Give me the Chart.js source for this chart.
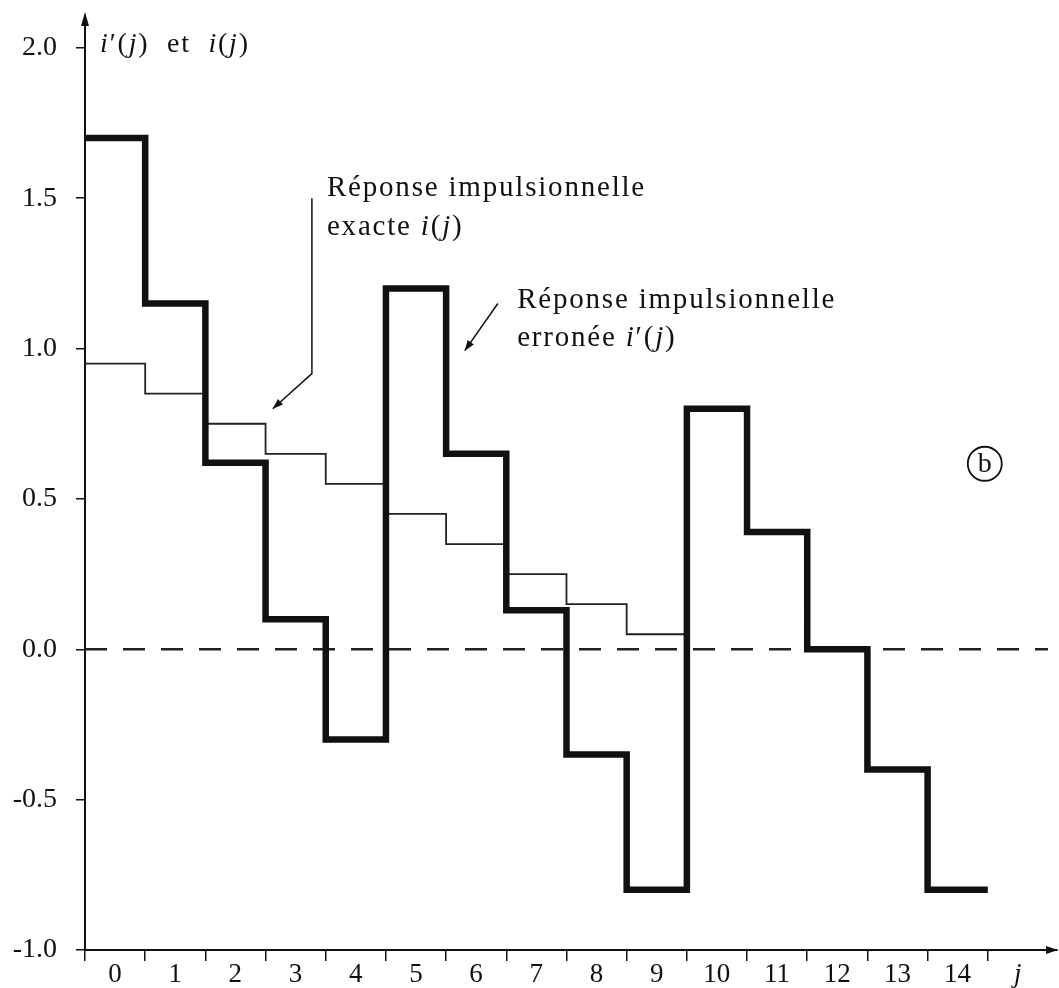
<!DOCTYPE html>
<html lang="fr">
<head>
<meta charset="UTF-8">
<title>Réponse impulsionnelle exacte et erronée</title>
<script src="https://cdn.jsdelivr.net/npm/chart.js"></script>
<style>
  body { margin: 0; background: #fff; }
  .chart-box { width: 1059px; height: 988px; position: relative; }
</style>
</head>
<body>
<div class="chart-box"><canvas id="reponseChart"></canvas></div>
<script>
// indices j
const jValues = [0, 1, 2, 3, 4, 5, 6, 7, 8, 9, 10, 11, 12, 13, 14];
// réponse impulsionnelle exacte i(j)
const exactValues = [0.95, 0.85, 0.75, 0.65, 0.55, 0.45, 0.35, 0.25, 0.15, 0.05];
// réponse impulsionnelle erronée i'(j)
const erroneeValues = [1.7, 1.15, 0.62, 0.1, -0.3, 1.2, 0.65, 0.13, -0.35, -0.8, 0.8, 0.39, 0.0, -0.4, -0.8];
// graduations
const yTicks = [-1.0, -0.5, 0.0, 0.5, 1.0, 1.5, 2.0];
const xTickLabels = ['0', '1', '2', '3', '4', '5', '6', '7', '8', '9', '10', '11', '12', '13', '14', 'j'];
const zeroLine = [0, 16];

const SERIF = '"Liberation Serif", "DejaVu Serif", serif';

// chaque valeur tient de j à j+1
function stepPoints(values) {
    const pts = values.map((v, k) => ({ x: jValues[k], y: v }));
    pts.push({ x: jValues[values.length - 1] + 1, y: values[values.length - 1] });
    return pts;
}

function drawRuns(ctx, runs, px, py, size, spacing) {
    let cx = px;
    ctx.letterSpacing = (spacing || 0) + 'px';
    runs.forEach(([t, it]) => {
        ctx.font = (it ? 'italic ' : '') + size + 'px ' + SERIF;
        ctx.fillText(t, cx, py);
        cx += ctx.measureText(t).width;
    });
    ctx.letterSpacing = '0px';
}

function arrow(ctx, pts) {
    ctx.beginPath();
    ctx.moveTo(pts[0][0], pts[0][1]);
    pts.slice(1).forEach(p => ctx.lineTo(p[0], p[1]));
    ctx.stroke();
    const [x1, y1] = pts[pts.length - 2];
    const [x2, y2] = pts[pts.length - 1];
    const a = Math.atan2(y2 - y1, x2 - x1);
    const L = 11, W = 0.35;
    ctx.beginPath();
    ctx.moveTo(x2, y2);
    ctx.lineTo(x2 - L * Math.cos(a - W), y2 - L * Math.sin(a - W));
    ctx.lineTo(x2 - L * Math.cos(a + W), y2 - L * Math.sin(a + W));
    ctx.closePath();
    ctx.fill();
}

function noPadding(s) {
    s.paddingTop = 0;
    s.paddingBottom = 0;
    s.paddingLeft = 0;
    s.paddingRight = 0;
}

const annotations = {
    id: 'annotations',
    afterDraw(chart) {
        const { ctx, chartArea, scales: { x, y } } = chart;
        ctx.save();
        ctx.fillStyle = '#111';
        ctx.strokeStyle = '#111';
        ctx.textBaseline = 'middle';
        ctx.textAlign = 'left';

        // flèches des axes
        ctx.beginPath();
        ctx.moveTo(chartArea.left, chartArea.top - 4);
        ctx.lineTo(chartArea.left - 4, chartArea.top + 10);
        ctx.lineTo(chartArea.left + 4, chartArea.top + 10);
        ctx.closePath();
        ctx.fill();
        ctx.beginPath();
        ctx.moveTo(chartArea.right + 1, chartArea.bottom);
        ctx.lineTo(chartArea.right - 11, chartArea.bottom - 4);
        ctx.lineTo(chartArea.right - 11, chartArea.bottom + 4);
        ctx.closePath();
        ctx.fill();

        // titre de l'axe
        drawRuns(ctx, [['i', true], ['\u2032(', false], ['j', true], [')  et  ', false], ['i', true], ['(', false], ['j', true], [')', false]],
            x.getPixelForValue(0.25), y.getPixelForValue(2.01), 28, 1.8);

        // réponse exacte
        drawRuns(ctx, [['Réponse impulsionnelle', false]], x.getPixelForValue(4.02), y.getPixelForValue(1.533), 29, 1.8);
        drawRuns(ctx, [['exacte ', false], ['i', true], ['(', false], ['j', true], [')', false]],
            x.getPixelForValue(4.02), y.getPixelForValue(1.403), 29, 1.8);
        ctx.lineWidth = 1.5;
        arrow(ctx, [
            [x.getPixelForValue(3.77), y.getPixelForValue(1.5)],
            [x.getPixelForValue(3.77), y.getPixelForValue(0.917)],
            [x.getPixelForValue(3.12), y.getPixelForValue(0.8)]
        ]);

        // réponse erronée
        drawRuns(ctx, [['Réponse impulsionnelle', false]], x.getPixelForValue(7.18), y.getPixelForValue(1.16), 29, 1.8);
        drawRuns(ctx, [['erronée ', false], ['i', true], ['\u2032(', false], ['j', true], [')', false]],
            x.getPixelForValue(7.18), y.getPixelForValue(1.033), 29, 1.8);
        arrow(ctx, [
            [x.getPixelForValue(6.86), y.getPixelForValue(1.15)],
            [x.getPixelForValue(6.31), y.getPixelForValue(0.993)]
        ]);

        // (b)
        const bx = x.getPixelForValue(14.95), by = y.getPixelForValue(0.617);
        ctx.lineWidth = 1.8;
        ctx.beginPath();
        ctx.arc(bx, by, 17, 0, Math.PI * 2);
        ctx.stroke();
        ctx.textAlign = 'center';
        ctx.font = '28px ' + SERIF;
        ctx.fillText('b', bx, by + 1);
        ctx.restore();
    }
};

const ctx = document.getElementById('reponseChart').getContext('2d');
new Chart(ctx, {
    type: 'line',
    data: {
        datasets: [
            {
                label: "i'(j)",
                data: stepPoints(erroneeValues),
                stepped: true,
                borderColor: '#111',
                borderWidth: 6.5,
                borderJoinStyle: 'miter',
                borderCapStyle: 'butt',
                pointRadius: 0,
                fill: false
            },
            {
                label: 'i(j)',
                data: stepPoints(exactValues),
                stepped: true,
                borderColor: '#222',
                borderWidth: 1.8,
                borderJoinStyle: 'miter',
                pointRadius: 0,
                fill: false
            },
            {
                label: 'zéro',
                data: zeroLine.map(v => ({ x: v, y: 0 })),
                borderColor: '#222',
                borderWidth: 2.5,
                borderDash: [22, 16],
                pointRadius: 0,
                fill: false
            }
        ]
    },
    options: {
        responsive: true,
        maintainAspectRatio: false,
        animation: false,
        layout: { autoPadding: false, padding: { top: 16, right: 2, left: 0, bottom: 0 } },
        plugins: {
            legend: { display: false },
            tooltip: { enabled: false }
        },
        scales: {
            x: {
                type: 'linear',
                min: 0,
                max: 16.15,
                afterBuildTicks: s => { s.ticks = xTickLabels.map((_, k) => ({ value: k })); },
                afterFit: s => { s.height = 38; noPadding(s); },
                border: { display: true, color: '#111', width: 2 },
                grid: { drawOnChartArea: false, drawTicks: true, tickLength: 11, color: '#111', lineWidth: 1.5 },
                ticks: {
                    autoSkip: false,
                    maxRotation: 0,
                    padding: -2,
                    labelOffset: 30,
                    color: '#111',
                    font: c => ({ family: SERIF, size: 27, style: c.index === xTickLabels.length - 1 ? 'italic' : 'normal' }),
                    callback: (v, i) => xTickLabels[i]
                }
            },
            y: {
                type: 'linear',
                min: -1.0,
                max: 2.106,
                afterBuildTicks: s => { s.ticks = yTicks.map(v => ({ value: v })); },
                afterFit: s => { s.width = 85; noPadding(s); },
                border: { display: true, color: '#111', width: 2 },
                grid: { drawOnChartArea: false, drawTicks: true, tickLength: 9, color: '#111', lineWidth: 1.5 },
                ticks: {
                    padding: 19,
                    color: '#111',
                    font: { family: SERIF, size: 28 },
                    callback: v => v.toFixed(1)
                }
            }
        }
    },
    plugins: [annotations]
});
</script>
</body>
</html>
